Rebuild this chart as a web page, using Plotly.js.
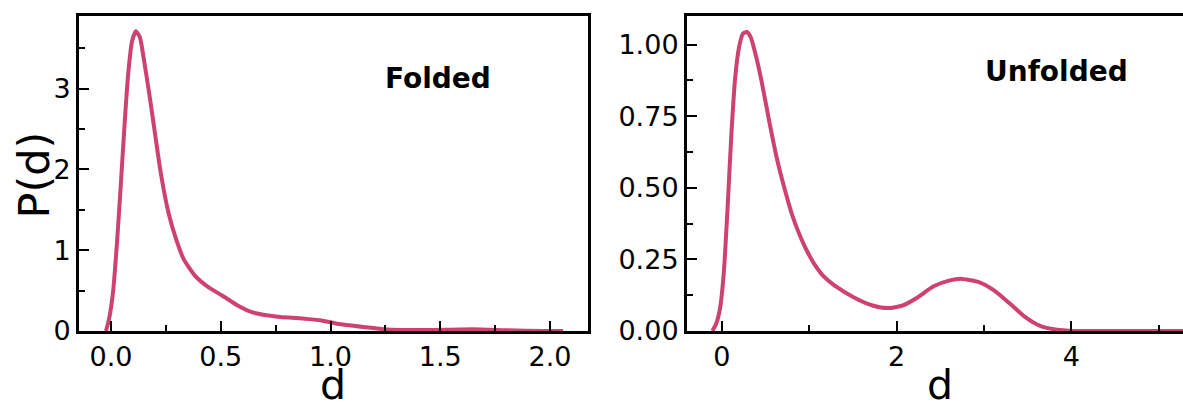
<!DOCTYPE html>
<html>
<head>
<meta charset="utf-8">
<script src="https://cdn.plot.ly/plotly-3.0.1.min.js"></script>
<style>html,body{margin:0;padding:0;background:#fff;}#chart{width:1183px;height:405px;}</style>
</head>
<body>
<div id="chart"></div>
<script>
// Folded distance distribution P(d)
const foldedD = [-0.023, -0.009, 0.009, 0.026, 0.044, 0.061, 0.078, 0.096, 0.113, 0.131, 0.148, 0.174, 0.2, 0.227, 0.262, 0.296, 0.331, 0.384, 0.445, 0.506, 0.575, 0.645, 0.75, 0.889, 0.959, 1.03, 1.15, 1.255, 1.41, 1.587, 1.69, 1.81, 1.97, 2.06];
const foldedP = [0.0, 0.15, 0.48, 1.05, 1.79, 2.53, 3.18, 3.59, 3.71, 3.64, 3.39, 2.94, 2.45, 1.95, 1.46, 1.14, 0.89, 0.68, 0.54, 0.44, 0.32, 0.23, 0.18, 0.15, 0.13, 0.09, 0.05, 0.02, 0.012, 0.02, 0.02, 0.008, 0.0, 0.0];

// Unfolded distance distribution P(d)
const unfoldedD = [-0.109, -0.066, -0.022, 0.022, 0.066, 0.109, 0.153, 0.197, 0.24, 0.284, 0.328, 0.393, 0.459, 0.546, 0.633, 0.72, 0.808, 0.895, 0.983, 1.07, 1.157, 1.288, 1.507, 1.725, 1.9, 2.07, 2.245, 2.424, 2.6, 2.75, 2.95, 3.12, 3.3, 3.47, 3.65, 3.82, 4.04, 4.6, 5.3];
const unfoldedP = [0.0, 0.025, 0.078, 0.205, 0.436, 0.69, 0.888, 0.992, 1.038, 1.044, 1.027, 0.957, 0.865, 0.726, 0.598, 0.494, 0.402, 0.332, 0.274, 0.228, 0.193, 0.159, 0.118, 0.089, 0.08, 0.089, 0.118, 0.156, 0.176, 0.182, 0.17, 0.141, 0.095, 0.049, 0.017, 0.005, 0.0, 0.0, 0.0];

const panelLabels = ["Folded", "Unfolded"];
const xTitle = "d";
const yTitle = "P(d)";

const lineColor = "#cd4270";
const FONT = "DejaVu Sans, sans-serif";

const traces = [
  {x: foldedD, y: foldedP, xaxis: "x", yaxis: "y", mode: "lines",
   line: {color: lineColor, width: 4, shape: "spline", smoothing: 0.6}, showlegend: false, hoverinfo: "skip"},
  {x: unfoldedD, y: unfoldedP, xaxis: "x2", yaxis: "y2", mode: "lines",
   line: {color: lineColor, width: 4, shape: "spline", smoothing: 0.6}, showlegend: false, hoverinfo: "skip"}
];

const tickFont = {family: FONT, size: 27, color: "#000"};
const axCommon = {
  showline: true, linecolor: "#000", linewidth: 3,
  ticks: "inside", ticklen: 10, tickwidth: 2, tickcolor: "#000",
  showgrid: false, zeroline: false, tickfont: tickFont, fixedrange: true
};
const minorCommon = {ticks: "inside", ticklen: 6, tickwidth: 2, tickcolor: "#000", tick0: 0};

const layout = {
  width: 1183, height: 405,
  margin: {l: 79, r: 0, t: 16, b: 74},
  paper_bgcolor: "#fff", plot_bgcolor: "#fff",
  font: {family: FONT, color: "#000"},
  xaxis: Object.assign({}, axCommon, {
    domain: [0, 0.461], anchor: "y", mirror: true,
    range: [-0.146, 2.173], tick0: 0, dtick: 0.5, tickformat: ".1f",
    minor: Object.assign({}, minorCommon, {dtick: 0.25})
  }),
  yaxis: Object.assign({}, axCommon, {
    domain: [0, 1], anchor: "x", mirror: true,
    range: [0, 3.9], tick0: 0, dtick: 1,
    minor: Object.assign({}, minorCommon, {dtick: 0.5})
  }),
  xaxis2: Object.assign({}, axCommon, {
    domain: [0.5507, 1], anchor: "y2", mirror: true,
    range: [-0.4, 5.28], tick0: 0, dtick: 2,
    minor: Object.assign({}, minorCommon, {dtick: 1})
  }),
  yaxis2: Object.assign({}, axCommon, {
    domain: [0, 1], anchor: "x2", mirror: false,
    range: [0, 1.1], tick0: 0, dtick: 0.25, tickformat: ".2f",
    minor: Object.assign({}, minorCommon, {dtick: 0.125})
  }),
  annotations: [
    {text: "<b>" + panelLabels[0] + "</b>", xref: "x domain", yref: "y domain", x: 0.705, y: 0.8,
     showarrow: false, font: {family: FONT, size: 28, color: "#000"}, xanchor: "center", yanchor: "middle"},
    {text: "<b>" + panelLabels[1] + "</b>", xref: "x2 domain", yref: "y2 domain", x: 0.744, y: 0.825,
     showarrow: false, font: {family: FONT, size: 28, color: "#000"}, xanchor: "center", yanchor: "middle"},
    // axis titles
    {text: xTitle, xref: "x domain", yref: "y domain", x: 0.5, y: 0, yshift: -54,
     showarrow: false, font: {family: FONT, size: 41, color: "#000"}, xanchor: "center", yanchor: "middle"},
    {text: xTitle, xref: "x2 domain", yref: "y2 domain", x: 0.5, y: 0, yshift: -54, xshift: 5,
     showarrow: false, font: {family: FONT, size: 41, color: "#000"}, xanchor: "center", yanchor: "middle"},
    {text: yTitle, xref: "x domain", yref: "y domain", x: 0, y: 0.5, xshift: -46, yshift: -2, textangle: -90,
     showarrow: false, font: {family: FONT, size: 43, color: "#000"}, xanchor: "center", yanchor: "middle"}
  ]
};

Plotly.newPlot("chart", traces, layout, {staticPlot: true, displayModeBar: false});
</script>
</body>
</html>
